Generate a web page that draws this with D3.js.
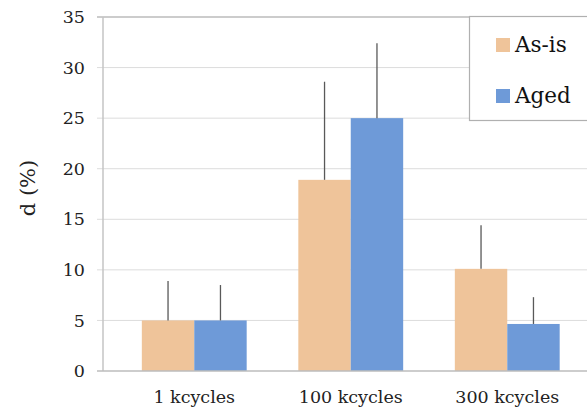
<!DOCTYPE html>
<html>
<head>
<meta charset="utf-8">
<script src="https://cdn.jsdelivr.net/npm/d3@7"></script>
<style>
  html, body { margin: 0; padding: 0; background: #fff; }
  svg { display: block; font-family: "DejaVu Serif", "Liberation Serif", serif; }
</style>
</head>
<body>
<div id="chart"></div>
<script>
// d (%) by cycle count, as-is vs aged, with upper error bars

const categories = ['1 kcycles', '100 kcycles', '300 kcycles'];
const seriesNames = ['As-is', 'Aged'];
const asIsValues = [5, 18.9, 10.1];
const agedValues = [5, 25, 4.65];
const asIsErrTop = [8.9, 28.6, 14.4];
const agedErrTop = [8.5, 32.4, 7.3];
const yTickValues = [0, 5, 10, 15, 20, 25, 30, 35];

const colors = { 'As-is': '#EFC49A', 'Aged': '#6E9AD8' };

const W = 587, H = 414;
const plot = { left: 103, right: 587, top: 17, bottom: 371 };

const svg = d3.select('#chart').append('svg')
  .attr('width', W)
  .attr('height', H);

const y = d3.scaleLinear().domain([0, 35]).range([plot.bottom, plot.top]);

// category bands (plot continues past the right edge of the picture)
const x = d3.scaleBand()
  .domain(categories)
  .range([116, 585.5])
  .padding(0);
const barW = x.bandwidth() * 0.335;

const data = categories.map((c, i) => ({
  cat: c,
  vals: [
    { name: 'As-is', value: asIsValues[i], err: asIsErrTop[i] },
    { name: 'Aged',  value: agedValues[i], err: agedErrTop[i] },
  ],
}));

// ── grid ──
svg.append('g')
  .selectAll('line')
  .data(yTickValues.filter(v => v > 0 && v < 35))
  .join('line')
  .attr('x1', plot.left - 6).attr('x2', plot.right)
  .attr('y1', d => y(d)).attr('y2', d => y(d))
  .attr('stroke', '#dcdcdc')
  .attr('stroke-width', 1);

// top line (darker)
svg.append('line')
  .attr('x1', plot.left - 6).attr('x2', plot.right)
  .attr('y1', y(35)).attr('y2', y(35))
  .attr('stroke', '#9a9a9a')
  .attr('stroke-width', 1.2);

// ── bars ──
const groups = svg.append('g').selectAll('g')
  .data(data)
  .join('g')
  .attr('transform', d => `translate(${x(d.cat) + x.bandwidth() / 2},0)`);

groups.selectAll('rect')
  .data(d => d.vals)
  .join('rect')
  .attr('x', (d, i) => (i - 1) * barW)
  .attr('y', d => y(d.value))
  .attr('width', barW)
  .attr('height', d => y(0) - y(d.value))
  .attr('fill', d => colors[d.name]);

// error bars (upper only)
groups.selectAll('line.err')
  .data(d => d.vals)
  .join('line')
  .attr('class', 'err')
  .attr('x1', (d, i) => (i - 0.5) * barW)
  .attr('x2', (d, i) => (i - 0.5) * barW)
  .attr('y1', d => y(d.value))
  .attr('y2', d => y(d.err))
  .attr('stroke', '#595959')
  .attr('stroke-width', 1.3);

// ── axes ──
svg.append('line')
  .attr('x1', plot.left).attr('x2', plot.left)
  .attr('y1', plot.top).attr('y2', plot.bottom)
  .attr('stroke', '#c4c4c4')
  .attr('stroke-width', 1.5);

svg.append('line')
  .attr('x1', plot.left - 6).attr('x2', plot.right)
  .attr('y1', plot.bottom).attr('y2', plot.bottom)
  .attr('stroke', '#bdbdbd')
  .attr('stroke-width', 1.3);

svg.append('g')
  .selectAll('text')
  .data(yTickValues)
  .join('text')
  .attr('x', 85)
  .attr('y', d => y(d))
  .attr('dy', '0.35em')
  .attr('text-anchor', 'end')
  .attr('font-size', 17.5)
  .attr('fill', '#222')
  .text(d => d);

svg.append('g')
  .selectAll('text')
  .data(categories)
  .join('text')
  .attr('x', d => x(d) + x.bandwidth() / 2)
  .attr('y', 403)
  .attr('text-anchor', 'middle')
  .attr('font-size', 17.5)
  .attr('fill', '#222')
  .text(d => d);

svg.append('text')
  .attr('transform', `translate(35,${(plot.top + plot.bottom) / 2 - 6}) rotate(-90)`)
  .attr('text-anchor', 'middle')
  .attr('font-size', 21)
  .attr('fill', '#222')
  .text('d (%)');

// ── legend ──
const legend = svg.append('g');
legend.append('rect')
  .attr('x', 469.5).attr('y', 16.5)
  .attr('width', 130).attr('height', 104)
  .attr('fill', '#fff')
  .attr('stroke', '#b0b0b0')
  .attr('stroke-width', 1.2);

const items = legend.selectAll('g')
  .data(seriesNames)
  .join('g')
  .attr('transform', (d, i) => `translate(496,${52 + i * 51})`);

items.append('rect')
  .attr('x', 0).attr('y', -14)
  .attr('width', 14).attr('height', 14)
  .attr('fill', d => colors[d]);

items.append('text')
  .attr('x', 19)
  .attr('y', 0)
  .attr('font-size', 21.5)
  .attr('fill', '#111')
  .text(d => d);
</script>
</body>
</html>
